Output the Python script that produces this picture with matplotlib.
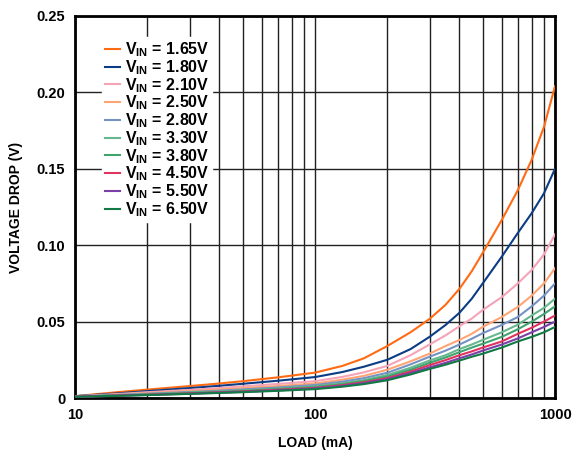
import matplotlib
matplotlib.use("Agg")
import matplotlib.pyplot as plt
from matplotlib.ticker import FixedLocator, NullFormatter

plt.rcParams['font.family'] = ['Liberation Sans', 'DejaVu Sans']
plt.rcParams['font.weight'] = 'bold'
plt.rcParams['mathtext.fontset'] = 'custom'
plt.rcParams['mathtext.rm'] = 'Liberation Sans:bold'
plt.rcParams['mathtext.bf'] = 'Liberation Sans:bold'

# load current (mA)
load = [10, 15, 20, 30, 40, 50, 70, 100, 130, 160, 200, 250, 300, 350, 400, 450, 500, 600, 700, 800, 900, 1000]

vin_labels = ['1.65V', '1.80V', '2.10V', '2.50V', '2.80V', '3.30V', '3.80V', '4.50V', '5.50V', '6.50V']
colors = ['#FF6A13', '#0B3C85', '#F4A3B8', '#FFA575', '#7592C4', '#66B88E', '#3FA46E', '#E0335F', '#7A3FA8', '#117A45']

# voltage drop (V)
drop_165 = [0.0012, 0.0038, 0.0055, 0.0078, 0.0095, 0.011, 0.0135, 0.0166, 0.021, 0.026, 0.034, 0.043,
            0.0517, 0.061, 0.0715, 0.083, 0.095, 0.1165, 0.136, 0.156, 0.1775, 0.204]
drop_180 = [0.0012, 0.003, 0.0045, 0.0065, 0.008, 0.0093, 0.0113, 0.0137, 0.017, 0.0205, 0.025, 0.032,
            0.040, 0.0478, 0.0558, 0.065, 0.075, 0.0925, 0.108, 0.121, 0.134, 0.150]
drop_210 = [0.0011, 0.0026, 0.0038, 0.0053, 0.0065, 0.0076, 0.0092, 0.011, 0.0138, 0.0168, 0.021, 0.028,
            0.035, 0.041, 0.047, 0.052, 0.0576, 0.066, 0.075, 0.0838, 0.094, 0.107]
drop_250 = [0.0010, 0.0022, 0.0032, 0.0045, 0.0055, 0.0064, 0.0078, 0.0095, 0.012, 0.0145, 0.0185, 0.024,
            0.029, 0.034, 0.038, 0.042, 0.0465, 0.053, 0.0596, 0.067, 0.075, 0.085]
drop_280 = [0.0010, 0.002, 0.0028, 0.0039, 0.0048, 0.0056, 0.0069, 0.0085, 0.0107, 0.013, 0.0165, 0.022,
            0.027, 0.031, 0.035, 0.0388, 0.0424, 0.0478, 0.053, 0.060, 0.067, 0.075]
drop_330 = [0.0009, 0.0018, 0.0025, 0.0035, 0.0043, 0.005, 0.0062, 0.0076, 0.0096, 0.0117, 0.015, 0.0198,
            0.0245, 0.028, 0.032, 0.035, 0.038, 0.043, 0.048, 0.054, 0.059, 0.065]
drop_380 = [0.0009, 0.0017, 0.0023, 0.0033, 0.004, 0.0046, 0.0058, 0.0071, 0.009, 0.011, 0.014, 0.0185,
            0.023, 0.0265, 0.030, 0.033, 0.0355, 0.040, 0.045, 0.050, 0.055, 0.060]
drop_450 = [0.0008, 0.0016, 0.0021, 0.003, 0.0037, 0.0043, 0.0054, 0.0066, 0.0084, 0.0103, 0.013, 0.0173,
            0.0215, 0.0248, 0.028, 0.0305, 0.033, 0.037, 0.042, 0.046, 0.050, 0.054]
drop_550 = [0.0008, 0.0015, 0.002, 0.0028, 0.0035, 0.004, 0.005, 0.0062, 0.0079, 0.0097, 0.0123, 0.0163,
            0.020, 0.023, 0.026, 0.0285, 0.031, 0.035, 0.039, 0.043, 0.0465, 0.050]
drop_650 = [0.0008, 0.0014, 0.0019, 0.0027, 0.0033, 0.0038, 0.0047, 0.0058, 0.0074, 0.0091, 0.0116, 0.0154,
            0.019, 0.0218, 0.0245, 0.027, 0.029, 0.033, 0.037, 0.040, 0.043, 0.0465]

drops = [drop_165, drop_180, drop_210, drop_250, drop_280, drop_330, drop_380, drop_450, drop_550, drop_650]

fig = plt.figure(figsize=(5.87, 4.51), dpi=100)
ax = fig.add_axes([75 / 587, 1 - 398 / 451, 480 / 587, 382 / 451])

for lbl, c, d in zip(vin_labels, colors, drops):
    ax.plot(load, d, color=c, lw=1.5, label=r'V$_{\mathrm{IN}}$ = ' + lbl, zorder=3)

ax.set_xscale('log')
ax.set_xlim(10, 1000)
ax.set_ylim(0, 0.25)
ax.set_yticks([0, 0.05, 0.10, 0.15, 0.20, 0.25])
ax.set_yticklabels(['0', '0.05', '0.10', '0.15', '0.20', '0.25'])
ax.xaxis.set_major_locator(FixedLocator([10, 100, 1000]))
ax.set_xticklabels(['10', '100', '1000'])
ax.xaxis.set_minor_locator(FixedLocator([20, 30, 40, 50, 60, 70, 80, 90, 200, 300, 400, 500, 600, 700, 800, 900]))
ax.xaxis.set_minor_formatter(NullFormatter())
ax.tick_params(which='both', length=0, labelsize=10.5, pad=7)
ax.grid(True, which='both', color='#222222', lw=1.0)
for s in ax.spines.values():
    s.set_linewidth(2)
ax.set_xlabel('LOAD (mA)', fontsize=10, fontweight='bold', labelpad=10)
ax.set_ylabel('VOLTAGE DROP (V)', fontsize=10, fontweight='bold', labelpad=10)

leg = ax.legend(loc='upper left', bbox_to_anchor=(0.04, 0.965), frameon=True, fancybox=False,
                edgecolor='white', framealpha=1, fontsize=11.5, handlelength=0.9,
                handletextpad=0.3, labelspacing=-0.06, borderpad=0.2)
leg.set_zorder(5)

fig.savefig('out.png', dpi=100)
